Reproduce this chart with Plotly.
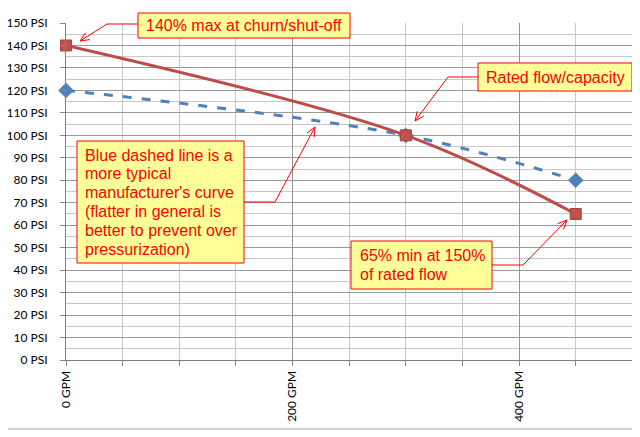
import math
import plotly.graph_objects as go

# pump curve points (flow in GPM, pressure in PSI)
flow_gpm = [0, 300, 450]
typical_psi = [120, 100, 80]      # blue dashed - manufacturer's curve
required_psi = [140, 100, 65]     # red - churn / rated / 150% limits

# the page body has an 8px margin, so the figure is a bit smaller
OFF = 8
W, H = 640 - OFF, 437 - OFF
L, T, B = 66 - OFF, 23 - OFF, 77
PLOT_W = W - L
PLOT_H = H - T - B
PX_PER_GPM = 1.1327
x_max = PLOT_W / PX_PER_GPM
y_max = 150


# helpers: pixel position in the 640x437 picture -> paper coords
def pxp(px):
    return (px - OFF - L) / PLOT_W


def pyp(py):
    return (H + OFF - B - py) / PLOT_H


RED = "#FF0000"
BOX = "#FFFF99"
ann_font = dict(family="Liberation Sans, Arial, sans-serif", size=16, color=RED)

fig = go.Figure()

fig.add_trace(go.Scatter(
    x=flow_gpm, y=typical_psi, mode="lines+markers", cliponaxis=False,
    line=dict(color="#4F81BD", width=3, dash="9px,10px", shape="spline"),
    marker=dict(symbol="diamond", size=12, color="#4F81BD"),
    showlegend=False
))
fig.add_trace(go.Scatter(
    x=flow_gpm, y=required_psi, mode="lines+markers", cliponaxis=False,
    line=dict(color="#BE4B48", width=3, shape="spline"),
    marker=dict(symbol="square", size=11, color="#C0504D",
                line=dict(color="#A8403D", width=1)),
    showlegend=False
))

# callouts: lines of text, box (x0, y0, x1, y1), text x, align,
# first line centre y, connector (box edge, elbow, tip) - all in pixels
callouts = [
    (["140% max at churn/shut-off"], (138, 13, 350, 38), 244, "center", 25.5,
     [(138, 24), (107, 24), (80, 41)]),
    (["Rated flow/capacity"], (478, 63, 632, 91), 555, "center", 77,
     [(478, 77), (448, 77), (415, 121)]),
    (["Blue dashed line is a", "more typical", "manufacturer's curve",
      "(flatter in general is", "better to prevent over", "pressurization)"],
     (77, 141, 244, 263), 83, "left", 155,
     [(244, 202), (275, 202), (315, 127)]),
    (["65% min at 150%", "of rated flow"], (351, 241, 492, 289), 358, "left", 255.5,
     [(492, 265), (523, 265), (567, 220)]),
]
LINE_PITCH = 18.8
HEAD_LEN = 10
HEAD_ANG = math.radians(24)

annotations = []
shapes = []
for lines, (bx0, by0, bx1, by1), tx, align, ty, pts in callouts:
    shapes.append(dict(type="rect", xref="paper", yref="paper", layer="above",
                       x0=pxp(bx0), x1=pxp(bx1), y0=pyp(by1), y1=pyp(by0),
                       fillcolor=BOX, line=dict(color=RED, width=1)))
    for i, line in enumerate(lines):
        annotations.append(dict(
            text=line, x=pxp(tx), y=pyp(ty + i * LINE_PITCH),
            xref="paper", yref="paper", showarrow=False,
            xanchor="left" if align == "left" else "center", yanchor="middle",
            font=ann_font
        ))
    path = "M " + " L ".join(f"{pxp(x)},{pyp(y)}" for x, y in pts)
    shapes.append(dict(type="path", xref="paper", yref="paper", path=path,
                       line=dict(color=RED, width=1)))
    # open V arrowhead at the tip
    (ex, ey), (tx2, ty2) = pts[1], pts[2]
    dx, dy = tx2 - ex, ty2 - ey
    n = math.hypot(dx, dy)
    dx, dy = dx / n, dy / n
    wings = []
    for s in (1, -1):
        c, sn = math.cos(s * HEAD_ANG), math.sin(s * HEAD_ANG)
        rx, ry = dx * c - dy * sn, dx * sn + dy * c
        wings.append((tx2 - HEAD_LEN * rx, ty2 - HEAD_LEN * ry))
    head = (f"M {pxp(wings[0][0])},{pyp(wings[0][1])} L {pxp(tx2)},{pyp(ty2)} "
            f"L {pxp(wings[1][0])},{pyp(wings[1][1])}")
    shapes.append(dict(type="path", xref="paper", yref="paper", path=head,
                       line=dict(color=RED, width=1)))

# outer chart border - only the bottom edge falls inside the figure
shapes.append(dict(type="line", xref="paper", yref="paper", layer="below",
                   x0=pxp(4), x1=1.05, y0=pyp(429), y1=pyp(429),
                   line=dict(color="#A6A6A6", width=1)))

tick_font = dict(family="Lato, sans-serif", size=12, color="#000000")

fig.update_layout(
    width=W, height=H,
    margin=dict(l=L, r=0, t=T, b=B, pad=0),
    paper_bgcolor="white", plot_bgcolor="white",
    annotations=annotations, shapes=shapes,
    xaxis=dict(
        range=[0, x_max], tick0=0, dtick=200, ticksuffix=" GPM",
        tickangle=-90, tickfont=tick_font,
        ticks="outside", ticklen=5, tickcolor="#868686",
        showgrid=True, gridcolor="#959595", gridwidth=1,
        showline=True, linecolor="#808080", linewidth=1, zeroline=False,
        minor=dict(dtick=50, showgrid=True, gridcolor="#C8C8C8",
                   ticks="outside", ticklen=5, tickcolor="#868686"),
    ),
    yaxis=dict(
        range=[0, y_max], tick0=0, dtick=10, ticksuffix=" PSI",
        tickfont=tick_font, ticklabelstandoff=10,
        ticks="outside", ticklen=5, tickcolor="#868686",
        showgrid=True, gridcolor="#9A9A9A", gridwidth=1,
        showline=True, linecolor="#808080", linewidth=1, zeroline=False,
        minor=dict(dtick=5, showgrid=True, gridcolor="#C8C8C8"),
    ),
)

fig.write_html("out.html")
